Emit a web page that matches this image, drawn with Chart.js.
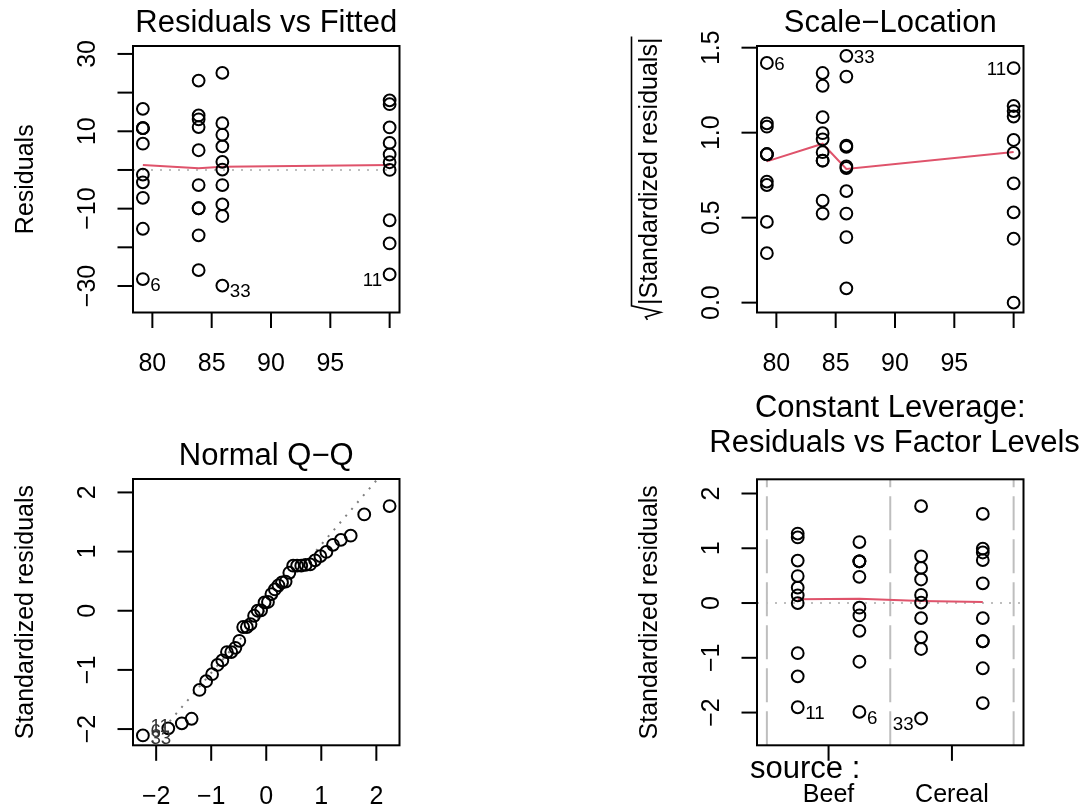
<!DOCTYPE html>
<html>
<head>
<meta charset="utf-8">
<script src="https://cdn.jsdelivr.net/npm/chart.js@4.4.1/dist/chart.umd.min.js"></script>
<style>
  html, body { margin: 0; padding: 0; background: #ffffff; }
  #wrap { position: relative; width: 1085px; height: 805px; overflow: hidden; background: #ffffff; }
  #wrap canvas { position: absolute; left: 0; top: 0; }
</style>
</head>
<body>
<div id="wrap">
  <canvas id="p1" width="1085" height="805"></canvas>
  <canvas id="p2" width="1085" height="805"></canvas>
  <canvas id="p3" width="1085" height="805"></canvas>
  <canvas id="p4" width="1085" height="805"></canvas>
</div>
<script>
// ---------------- DATA ----------------
// observations 1-10 Low Beef, 11-20 High Beef, 21-30 Low Cereal, 31-40 High Cereal
const fittedValues = [
  79.2, 79.2, 79.2, 79.2, 79.2, 79.2, 79.2, 79.2, 79.2, 79.2,
  100.0, 100.0, 100.0, 100.0, 100.0, 100.0, 100.0, 100.0, 100.0, 100.0,
  83.9, 83.9, 83.9, 83.9, 83.9, 83.9, 83.9, 83.9, 83.9, 83.9,
  85.9, 85.9, 85.9, 85.9, 85.9, 85.9, 85.9, 85.9, 85.9, 85.9
];
const residualValues = [
  10.8, -3.2, 10.8, -15.2, 6.8, -28.2, -7.2, 10.8, 15.8, -1.2,
  -27.0, 2.0, 18.0, 4.0, -19.0, 7.0, 0.0, -13.0, 17.0, 11.0,
  23.1, 11.1, 13.1, -3.9, 14.1, -9.9, -9.9, -16.9, 5.1, -25.9,
  12.1, -11.9, -29.9, 25.1, 9.1, 2.1, -3.9, -8.9, 0.1, 6.1
];
const stdResiduals = [
  0.761, -0.226, 0.761, -1.072, 0.479, -1.988, -0.508, 0.761, 1.114, -0.085,
  -1.903, 0.141, 1.269, 0.282, -1.339, 0.493, 0.000, -0.916, 1.198, 0.775,
  1.628, 0.783, 0.923, -0.275, 0.994, -0.698, -0.698, -1.191, 0.360, -1.826,
  0.853, -0.839, -2.108, 1.769, 0.642, 0.148, -0.275, -0.627, 0.007, 0.430
];
const sqrtAbsStdResiduals = [
  0.873, 0.475, 0.873, 1.035, 0.692, 1.410, 0.712, 0.873, 1.055, 0.291,
  1.380, 0.376, 1.127, 0.531, 1.157, 0.702, 0.000, 0.957, 1.095, 0.881,
  1.276, 0.885, 0.961, 0.524, 0.997, 0.835, 0.835, 1.091, 0.600, 1.351,
  0.924, 0.916, 1.452, 1.330, 0.801, 0.385, 0.524, 0.792, 0.084, 0.656
];
// factor-level positions on the "Residuals vs Factor Levels" x axis
const factorPositions = [
  1, 1, 1, 1, 1, 1, 1, 1, 1, 1,
  0, 0, 0, 0, 0, 0, 0, 0, 0, 0,
  3, 3, 3, 3, 3, 3, 3, 3, 3, 3,
  2, 2, 2, 2, 2, 2, 2, 2, 2, 2
];
// Normal Q-Q
const qqTheoretical = [
  -2.241, -1.780, -1.534, -1.356, -1.213, -1.092, -0.984, -0.887, -0.798, -0.714,
  -0.636, -0.561, -0.489, -0.419, -0.352, -0.286, -0.221, -0.157, -0.094, -0.031,
  0.031, 0.094, 0.157, 0.221, 0.286, 0.352, 0.419, 0.489, 0.561, 0.636,
  0.714, 0.798, 0.887, 0.984, 1.092, 1.213, 1.356, 1.534, 1.780, 2.241
];
const qqSample = [
  -2.108, -1.988, -1.903, -1.826, -1.339, -1.191, -1.072, -0.916, -0.839, -0.698,
  -0.698, -0.627, -0.508, -0.275, -0.275, -0.226, -0.085, 0.000, 0.007, 0.141,
  0.148, 0.282, 0.360, 0.430, 0.479, 0.493, 0.642, 0.761, 0.761, 0.761,
  0.775, 0.783, 0.853, 0.923, 0.994, 1.114, 1.198, 1.269, 1.628, 1.769
];
const qqLineX = [-2.5, 2.5];
const qqLineY = [-2.677, 2.744];
// smoother (red) lines
const smoothFittedX = [79.2, 83.9, 85.9, 100.0];
const smoothResidY = [1.28, 0.43, 0.85, 1.28];
const smoothScaleY = [0.831, 0.935, 0.787, 0.886];
const smoothFactorX = [0, 1, 2, 3];
const smoothFactorY = [0.067, 0.079, 0.037, 0.018];
// labelled observations (1-based)
const idObs = [6, 33, 11];
const qqIdRanks = [1, 2, 3];           // sorted ranks of obs 33, 6, 11
const qqIdText = ['33', '6', '11'];
// ticks
const fitTicks = [80, 85, 90, 95, 100];
const fitTickLabels = ['80', '85', '90', '95', ''];
const residTicks = [-30, -20, -10, 0, 10, 20, 30];
const residTickLabels = ['\u221230', '', '\u221210', '', '10', '', '30'];
const scaleTicks = [0, 0.5, 1.0, 1.5];
const scaleTickLabels = ['0.0', '0.5', '1.0', '1.5'];
const unitTicks = [-2, -1, 0, 1, 2];
const unitTickLabels = ['\u22122', '\u22121', '0', '1', '2'];
const factorTicks = [0.5, 2.5];
const factorTickLabels = ['Beef', 'Cereal'];
const factorSeparators = [-0.5, 1.5, 3.5];

// ---------------- STYLE ----------------
const FONT = '"Liberation Sans", Arial, Helvetica, sans-serif';
const RED = '#DF536B';
const TICK = 25, TITLE = 31, IDS = 18.75;

const rPlot = {
  id: 'rPlot',
  beforeDatasetsDraw(chart, args, o) {
    const { ctx, chartArea: a, scales } = chart;
    ctx.save();
    ctx.beginPath();
    ctx.rect(a.left, a.top, a.right - a.left, a.bottom - a.top);
    ctx.clip();
    ctx.lineWidth = 2;
    (o.hRefs || []).forEach(r => {
      const py = scales.y.getPixelForValue(r.value);
      ctx.strokeStyle = r.color; ctx.setLineDash(r.dash);
      ctx.beginPath(); ctx.moveTo(a.left, py); ctx.lineTo(a.right, py); ctx.stroke();
    });
    (o.vRefs || []).forEach(r => {
      const px = scales.x.getPixelForValue(r.value);
      ctx.strokeStyle = r.color; ctx.setLineDash(r.dash);
      ctx.beginPath(); ctx.moveTo(px, a.bottom); ctx.lineTo(px, a.top); ctx.stroke();
    });
    ctx.restore();
  },
  afterDraw(chart, args, o) {
    const { ctx, chartArea: a, scales: { x, y } } = chart;
    ctx.save();
    ctx.strokeStyle = '#000'; ctx.fillStyle = '#000';
    ctx.lineWidth = 2; ctx.setLineDash([]);
    ctx.strokeRect(a.left, a.top, a.right - a.left, a.bottom - a.top);
    ctx.font = TICK + 'px ' + FONT;
    ctx.textBaseline = 'alphabetic';
    ctx.textAlign = 'center';
    o.xTicks.forEach((v, i) => {
      const px = x.getPixelForValue(v);
      ctx.beginPath(); ctx.moveTo(px, a.bottom); ctx.lineTo(px, a.bottom + 15.5); ctx.stroke();
      if (o.xLabels[i]) ctx.fillText(o.xLabels[i], px, a.bottom + (o.xLabelOffset || 58.5));
    });
    o.yTicks.forEach((v, i) => {
      const py = y.getPixelForValue(v);
      ctx.beginPath(); ctx.moveTo(a.left - 15.5, py); ctx.lineTo(a.left, py); ctx.stroke();
      if (o.yLabels[i]) {
        ctx.save(); ctx.translate(a.left - 38, py); ctx.rotate(-Math.PI / 2);
        ctx.fillText(o.yLabels[i], 0, 0); ctx.restore();
      }
    });
    // y axis title
    const cy = (a.top + a.bottom) / 2;
    ctx.save();
    ctx.translate(a.left - 100.5, cy); ctx.rotate(-Math.PI / 2);
    if (o.sqrtTitle) {
      const txt = '|' + o.yTitle + '|';
      const w = ctx.measureText(txt).width;
      const rw = 16;
      const s = -(w + rw) / 2;
      ctx.textAlign = 'left';
      ctx.fillText(txt, s + rw, 0);
      ctx.lineWidth = 1.6;
      ctx.beginPath();
      ctx.moveTo(s + 1, -9);
      ctx.lineTo(s + 4, -11);
      ctx.lineTo(s + 8.5, 4);
      ctx.lineTo(s + rw - 1, -25);
      ctx.lineTo(s + rw + w + 1, -25);
      ctx.stroke();
    } else {
      ctx.fillText(o.yTitle, 0, 0);
    }
    ctx.restore();
    // main title
    ctx.font = TITLE + 'px ' + FONT;
    ctx.textAlign = 'center';
    const cx = (a.left + a.right) / 2;
    o.titles.forEach(t => ctx.fillText(t.text, cx + (t.dx || 0), a.top - t.up));
    // extra axis note ("source :")
    if (o.note) {
      ctx.textAlign = 'left';
      ctx.fillText(o.note.text, a.left + o.note.dx, a.bottom + o.note.down);
    }
    // id labels
    ctx.font = IDS + 'px ' + FONT;
    const mid = (x.min + x.max) / 2;
    o.ids.forEach(l => {
      const px = x.getPixelForValue(l.x);
      let py = y.getPixelForValue(l.y);
      if (l.y < 0 && l.shift) py += 5;
      const right = (l.side ? l.side === 'right' : l.x <= mid);
      ctx.fillStyle = l.color || '#000';
      ctx.textAlign = right ? 'left' : 'right';
      ctx.fillText(l.text, px + (right ? 7.5 : -7.5), py + 6.7 + (l.dy || 0));
    });
    ctx.restore();
  }
};

function pts(xs, ys) { return xs.map((v, i) => ({ x: v, y: ys[i] })); }
function circles(data) {
  return { data, showLine: false, pointStyle: 'circle', pointRadius: 5.9,
           pointBorderWidth: 2, pointBorderColor: '#000',
           pointBackgroundColor: 'rgba(0,0,0,0)', borderColor: '#000', clip: false };
}
function lineSet(data, color, dash) {
  return { data, showLine: true, pointRadius: 0, borderColor: color, borderWidth: 2,
           borderDash: dash || [], fill: false, tension: 0, clip: 0 };
}
function makeChart(id, box, xr, yr, datasets, opts) {
  return new Chart(document.getElementById(id), {
    type: 'scatter',
    data: { datasets },
    options: {
      responsive: false, animation: false, events: [],
      layout: { padding: { left: box[0], top: box[2], right: 1085 - box[1], bottom: 805 - box[3] } },
      scales: {
        x: { type: 'linear', min: xr[0], max: xr[1], display: false, ticks: { display: false },
             afterBuildTicks: s => { s.ticks = opts.xTicks.map(v => ({ value: v })); } },
        y: { type: 'linear', min: yr[0], max: yr[1], display: false, ticks: { display: false },
             afterBuildTicks: s => { s.ticks = opts.yTicks.map(v => ({ value: v })); } }
      },
      plugins: { legend: { display: false }, tooltip: { enabled: false }, rPlot: opts }
    },
    plugins: [rPlot]
  });
}

const idIdx = idObs.map(n => n - 1);

// Panel 1: Residuals vs Fitted
makeChart('p1', [133, 399.5, 46, 312.5], [78.368, 100.832], [-36.852, 32.052], [
  circles(pts(fittedValues, residualValues)),
  lineSet(pts(smoothFittedX, smoothResidY), RED)
], {
  xTicks: fitTicks, xLabels: fitTickLabels, yTicks: residTicks, yLabels: residTickLabels,
  yTitle: 'Residuals', titles: [{ text: 'Residuals vs Fitted', up: 14.3 }],
  hRefs: [{ value: 0, color: '#BEBEBE', dash: [2, 7] }],
  ids: idIdx.map(i => ({ x: fittedValues[i], y: residualValues[i], text: String(i + 1), shift: true }))
});

// Panel 2: Scale-Location
makeChart('p2', [757, 1023.5, 46, 312.5], [78.368, 100.832], [-0.058, 1.5099], [
  circles(pts(fittedValues, sqrtAbsStdResiduals)),
  lineSet(pts(smoothFittedX, smoothScaleY), RED)
], {
  xTicks: fitTicks, xLabels: fitTickLabels, yTicks: scaleTicks, yLabels: scaleTickLabels,
  yTitle: 'Standardized residuals', sqrtTitle: true,
  titles: [{ text: 'Scale\u2212Location', up: 14.3 }],
  ids: idIdx.map(i => ({ x: fittedValues[i], y: sqrtAbsStdResiduals[i], text: String(i + 1) }))
});

// Panel 3: Normal Q-Q
makeChart('p3', [133, 399.5, 479, 745.3], [-2.4207, 2.4207], [-2.2744, 2.2268], [
  circles(pts(qqTheoretical, qqSample)),
  lineSet(pts(qqLineX, qqLineY), '#7F7F7F', [2, 7])
], {
  xTicks: unitTicks, xLabels: unitTickLabels, yTicks: unitTicks, yLabels: unitTickLabels,
  yTitle: 'Standardized residuals', titles: [{ text: 'Normal Q\u2212Q', up: 14.3 }],
  ids: qqIdRanks.map((r, k) => ({ x: qqTheoretical[0], y: qqSample[r - 1], text: qqIdText[k],
                                  side: 'right', color: '#333', dy: -3 }))
});

// Panel 4: Constant Leverage: Residuals vs Factor Levels
makeChart('p4', [757, 1023.5, 479.3, 745.3], [-0.66, 3.66], [-2.5978, 2.2594], [
  circles(pts(factorPositions, stdResiduals)),
  lineSet(pts(smoothFactorX, smoothFactorY), RED)
], {
  xTicks: factorTicks, xLabels: factorTickLabels, yTicks: unitTicks, yLabels: unitTickLabels,
  yTitle: 'Standardized residuals',
  titles: [{ text: 'Constant Leverage:', up: 62.8 }, { text: ' Residuals vs Factor Levels', up: 27.3 }],
  note: { text: 'source :', dx: -7, down: 33 },
  xLabelOffset: 56.5,
  hRefs: [{ value: 0, color: '#BEBEBE', dash: [2, 7] }],
  vRefs: factorSeparators.map(v => ({ value: v, color: '#BEBEBE', dash: [34, 9] })),
  ids: idIdx.map(i => ({ x: factorPositions[i], y: stdResiduals[i], text: String(i + 1), shift: true }))
});
</script>
</body>
</html>
